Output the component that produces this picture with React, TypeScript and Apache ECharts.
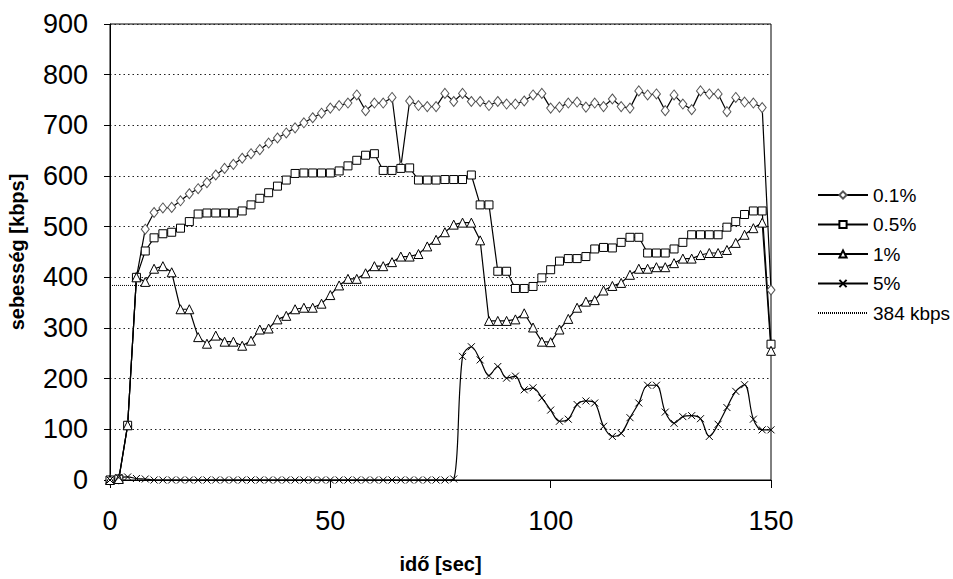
import React, { useEffect, useRef } from "react";
import * as echarts from "echarts";

const times = [
  0, 2, 4, 6, 8, 10, 12, 14, 16, 18, 20, 22, 24, 26, 28, 30, 32, 34, 36, 38,
  40, 42, 44, 46, 48, 50, 52, 54, 56, 58, 60, 62, 64, 66, 68, 70, 72, 74, 76, 78,
  80, 82, 84, 86, 88, 90, 92, 94, 96, 98, 100, 102, 104, 106, 108, 110, 112, 114, 116, 118,
  120, 122, 124, 126, 128, 130, 132, 134, 136, 138, 140, 142, 144, 146, 148, 150,
];

const loss01 = [
  0, 2, 108, 400, 495, 528, 537, 538, 551, 565, 575, 587, 602, 615, 623, 635, 644, 652, 665, 675,
  685, 695, 705, 715, 724, 734, 739, 744, 760, 729, 744, 744, 755, 618, 748, 739, 737, 737, 763, 747,
  763, 747, 747, 739, 747, 742, 742, 748, 760, 763, 734, 736, 744, 746, 736, 744, 737, 752, 737, 734,
  768, 760, 762, 729, 760, 742, 731, 768, 762, 762, 727, 755, 746, 744, 735, 375,
];

const loss05 = [
  0, 2, 108, 400, 452, 478, 486, 489, 497, 510, 525, 527, 527, 527, 527, 531, 543, 556, 567, 580,
  592, 605, 606, 606, 606, 606, 610, 620, 631, 641, 644, 611, 611, 615, 616, 592, 592, 592, 593, 593,
  593, 602, 543, 543, 412, 412, 378, 378, 382, 399, 415, 432, 437, 437, 441, 456, 459, 458, 469, 479,
  479, 448, 448, 448, 456, 469, 484, 484, 484, 484, 499, 510, 524, 531, 531, 268,
];

const loss1 = [
  0, 2, 108, 400, 391, 417, 422, 410, 337, 337, 282, 269, 285, 273, 273, 265, 275, 297, 299, 317,
  324, 337, 340, 340, 348, 365, 384, 397, 397, 408, 422, 422, 430, 441, 441, 446, 461, 474, 489, 504,
  508, 508, 473, 314, 314, 314, 317, 329, 301, 273, 272, 297, 318, 340, 352, 355, 374, 383, 389, 405,
  417, 417, 420, 420, 428, 437, 437, 444, 448, 448, 454, 468, 484, 497, 508, 255,
];

const loss5 = [
  0, 5, 6, 3, 2, 0, 0, 0, 0, 0, 0, 0, 0, 0, 0, 0, 0, 0, 0, 0,
  0, 0, 0, 0, 0, 0, 0, 0, 0, 0, 0, 0, 0, 0, 0, 0, 0, 0, 0, 2,
  244, 263, 237, 206, 224, 201, 205, 178, 182, 162, 138, 116, 120, 149, 156, 152, 106, 86, 92, 123,
  152, 187, 187, 134, 112, 125, 127, 121, 86, 110, 143, 175, 188, 120, 99, 99,
];

const refTimes = [0, 150];
const refValues = [384, 384];

const seriesNames = ["0.1%", "0.5%", "1%", "5%", "384 kbps"];
const yTicks = [0, 100, 200, 300, 400, 500, 600, 700, 800, 900];
const xTicks = [0, 50, 100, 150];

const FONT = "'Liberation Sans', Arial, Helvetica, sans-serif";

function pairs(xs: number[], ys: number[]) {
  return xs.map((x, i) => [x, ys[i]]);
}

export default function App() {
  const ref = useRef<HTMLDivElement>(null);

  useEffect(() => {
    if (!ref.current) return;
    const chart = echarts.init(ref.current, undefined, { renderer: "svg" });

    const lineBase = (name: string, data: number[], symbol: string, size: any, border: string, smooth: any = false) => ({
      name,
      type: "line",
      data: pairs(times, data),
      symbol,
      symbolSize: size,
      showSymbol: true,
      smooth,
      lineStyle: { color: "#000", width: 1.2 },
      itemStyle: { color: "#fff", borderColor: border, borderWidth: 1 },
      emphasis: { disabled: true },
    });

    chart.setOption({
      animation: false,
      backgroundColor: "#fff",
      textStyle: { fontFamily: FONT },
      grid: {
        left: 110,
        right: 182,
        top: 24,
        bottom: 99,
        containLabel: false,
        outerBoundsMode: "none",
        show: true,
        borderColor: "#000",
        borderWidth: 1,
        backgroundColor: "transparent",
      },
      legend: {
        orient: "vertical",
        left: 817,
        top: 185,
        padding: 0,
        itemWidth: 50,
        itemHeight: 9,
        itemGap: 9.5,
        selectedMode: false,
        data: [
          seriesNames[0],
          seriesNames[1],
          seriesNames[2],
          seriesNames[3],
          { name: seriesNames[4], itemStyle: { opacity: 0 } },
        ],
        textStyle: { fontSize: 19, color: "#000", fontFamily: FONT, lineHeight: 20 },
      },
      xAxis: {
        type: "value",
        min: xTicks[0],
        max: xTicks[xTicks.length - 1],
        interval: 50,
        name: "idő [sec]",
        nameLocation: "middle",
        nameGap: 74,
        nameTextStyle: { fontSize: 20, fontWeight: "bold", color: "#000", fontFamily: FONT },
        axisLine: { show: true, lineStyle: { color: "#000", width: 1 } },
        axisTick: { show: true, inside: false, length: 8, lineStyle: { color: "#000" } },
        axisLabel: { fontSize: 27, color: "#000", margin: 27, fontFamily: FONT },
        splitLine: { show: false },
      },
      yAxis: {
        type: "value",
        min: yTicks[0],
        max: yTicks[yTicks.length - 1],
        interval: 100,
        name: "sebesség [kbps]",
        nameLocation: "middle",
        nameGap: 83,
        nameRotate: 90,
        nameTextStyle: { fontSize: 20, fontWeight: "bold", color: "#000", fontFamily: FONT },
        axisLine: { show: true, lineStyle: { color: "#000", width: 1 } },
        axisTick: { show: true, inside: false, length: 6, lineStyle: { color: "#000" } },
        axisLabel: { fontSize: 27, color: "#000", margin: 22, fontFamily: FONT },
        splitLine: { show: true, lineStyle: { color: "#222", width: 1, type: [1.5, 3] } },
      },
      series: [
        lineBase(seriesNames[0], loss01, "diamond", [8, 10], "#555"),
        lineBase(seriesNames[1], loss05, "rect", 8, "#000"),
        lineBase(seriesNames[2], loss1, "triangle", 9, "#000"),
        lineBase(seriesNames[3], loss5, "path://M0,0L10,10M10,0L0,10", 7, "#000", 0.35),
        {
          name: seriesNames[4],
          type: "line",
          data: pairs(refTimes, refValues),
          showSymbol: false,
          symbol: "none",
          lineStyle: { color: "#000", width: 1, type: [1, 1] },
          itemStyle: { color: "#000" },
          emphasis: { disabled: true },
          z: 1,
        },
      ],
    });

    return () => chart.dispose();
  }, []);

  return (
    <div
      ref={ref}
      style={{ position: "absolute", left: 0, top: 0, width: 953, height: 579, background: "#fff" }}
    />
  );
}
